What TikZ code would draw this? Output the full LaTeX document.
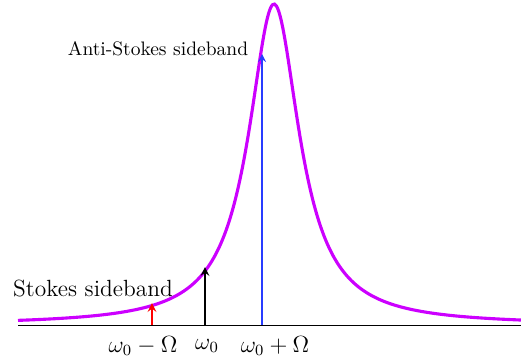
\documentclass[tikz,border=0pt]{standalone}
\usepackage{amsmath, amsfonts, amssymb}

\definecolor{peakcol}{RGB}{204,0,255}
\definecolor{antiblue}{RGB}{40,60,255}

\begin{document}
\begin{tikzpicture}[>=stealth, x=0.018cm, y=-0.018cm]
\useasboundingbox (0,0) rectangle (521,360);

\coordinate (axL) at (18,325);
\coordinate (axR) at (521,325);
\coordinate (s0) at (152,325);
\coordinate (s1) at (152,303);
\coordinate (c0) at (205,325);
\coordinate (c1) at (205,267);
\coordinate (a0) at (262,325);
\coordinate (a1) at (262,54);

\draw[thin] (axL) -- (axR);
\draw[peakcol, line width=1.6pt, domain=18:521, samples=250, smooth]
  plot (\x, {325 - 321/(1 + ((\x-274)/31)^2)});

\draw[->, red, line width=1pt] (s0) -- (s1);
\draw[->, black, line width=1pt] (c0) -- (c1);
\draw[->, antiblue, line width=0.8pt] (a0) -- (a1);

\node[font=\large] (ls) at (143,346) {$\omega_0-\Omega$};
\node[font=\large] (lc) at (207,346) {$\omega_0$};
\node[font=\large] (la) at (275,346) {$\omega_0+\Omega$};

\node[font=\large] (stokes) at (93,288) {Stokes sideband};
\node (anti) at (158,49) {Anti-Stokes sideband};
\end{tikzpicture}
\end{document}
